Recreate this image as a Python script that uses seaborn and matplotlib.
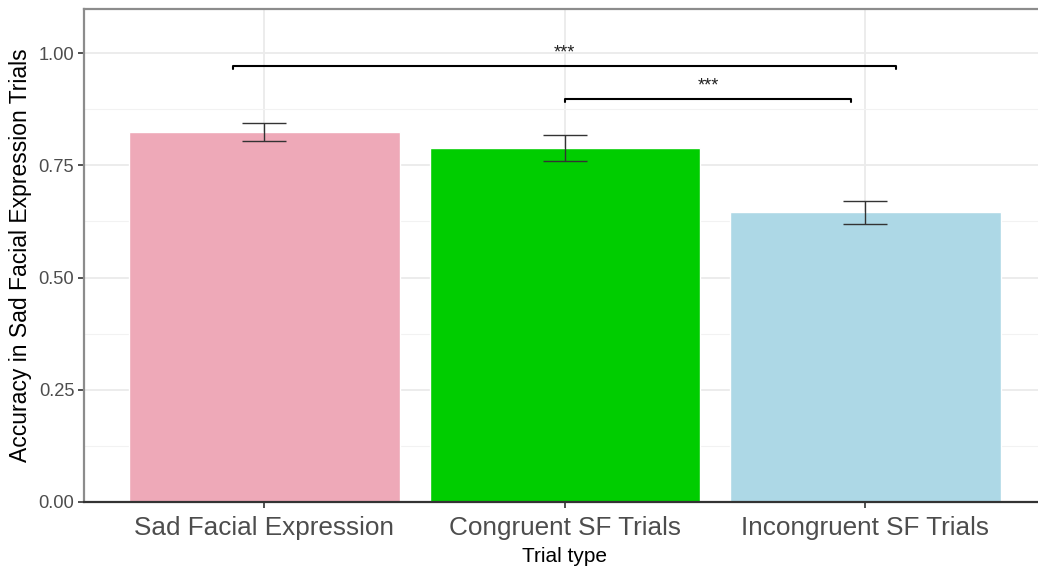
import matplotlib
matplotlib.use("Agg")
import matplotlib.pyplot as plt
import seaborn as sns
import pandas as pd
from matplotlib.ticker import MultipleLocator

# Mean accuracy per trial type with standard-error bounds
trial_types = ["Sad Facial Expression", "Congruent SF Trials", "Incongruent SF Trials"]
accuracy = [0.823, 0.789, 0.645]
err_low = [0.803, 0.760, 0.619]
err_high = [0.843, 0.818, 0.671]
bar_colors = ["#EEA9B8", "#00CD00", "#ADD8E6"]

# Pairwise comparisons: (start, end, height, label)
comparisons = [
    (-0.103, 2.103, 0.971, "***"),
    (1.0, 1.953, 0.898, "***"),
]

sns.set_theme(style="white")
plt.rcParams["font.family"] = ["Liberation Sans", "DejaVu Sans"]

df = pd.DataFrame({"Trial type": trial_types, "Accuracy": accuracy})

fig = plt.figure(figsize=(10.38, 5.70), dpi=100)
ax = fig.add_axes([84 / 1038, 1 - 502 / 570, 961.6 / 1038, (502 - 9) / 570])

sns.barplot(data=df, x="Trial type", y="Accuracy", hue="Trial type",
            palette=bar_colors, width=0.9, legend=False, ax=ax,
            errorbar=None, saturation=1, zorder=2)

xs = range(len(trial_types))
yerr = [[m - lo for m, lo in zip(accuracy, err_low)],
        [hi - m for m, hi in zip(accuracy, err_high)]]
ax.errorbar(list(xs), accuracy, yerr=yerr, fmt="none", ecolor="#333333",
            elinewidth=1.0, capsize=15.8, capthick=1.0, zorder=3)

tick_h = 0.007
for x0, x1, h, lab in comparisons:
    ax.plot([x0, x0, x1, x1], [h - tick_h, h, h, h - tick_h],
            color="black", lw=1.5, zorder=4, solid_capstyle="round")
    ax.text((x0 + x1) / 2, h + 0.028, lab, ha="center", va="center",
            fontsize=13, color="#222222", zorder=4)

ax.set_xlim(-0.6, 2.6)
ax.set_ylim(0, 1.098)
ax.yaxis.set_minor_locator(MultipleLocator(0.125))
ax.set_yticks([0, 0.25, 0.5, 0.75, 1.0])
ax.set_yticklabels(["0.00", "0.25", "0.50", "0.75", "1.00"])

ax.grid(True, which="major", color="#EBEBEB", lw=1.3, zorder=0)
ax.grid(True, which="minor", axis="y", color="#F2F2F2", lw=0.8, zorder=0)
ax.set_axisbelow(True)

ax.tick_params(axis="y", which="major", length=4, width=1.2, color="#333333",
               labelsize=13.2, labelcolor="#4D4D4D", pad=3, left=True)
ax.tick_params(axis="y", which="minor", length=0)
ax.tick_params(axis="x", length=4, width=1.2, color="#333333",
               labelsize=18.8, labelcolor="#4D4D4D", pad=6, bottom=True)

ax.set_xlabel("Trial type", fontsize=15, color="black", labelpad=5)
ax.set_ylabel("Accuracy in Sad Facial Expression Trials", fontsize=16.5,
              color="black", labelpad=5)

for side in ["left", "top", "right"]:
    ax.spines[side].set_color("#8C8C8C")
    ax.spines[side].set_linewidth(1.6)
ax.spines["bottom"].set_color("#333333")
ax.spines["bottom"].set_linewidth(1.6)

fig.savefig("out.png", dpi=100)
